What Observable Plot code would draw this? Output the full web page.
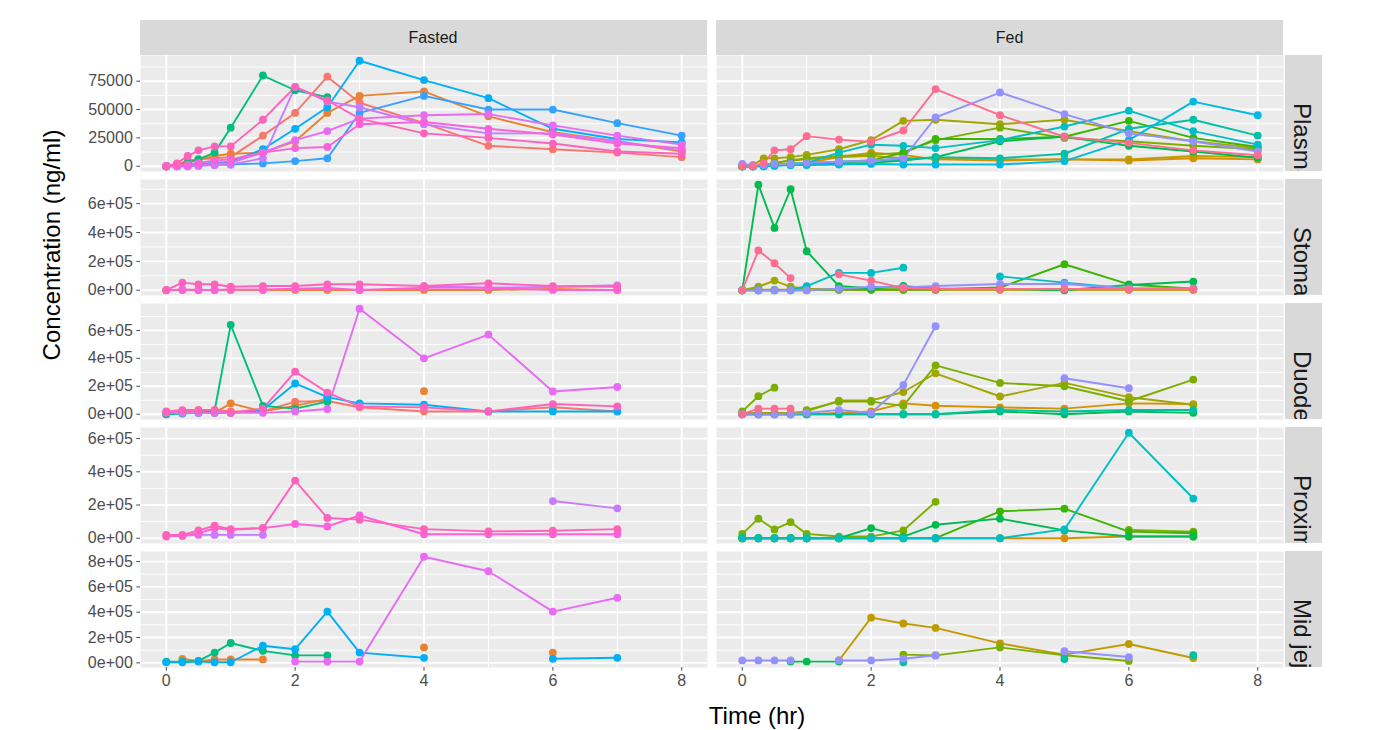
<!DOCTYPE html>
<html><head><meta charset="utf-8">
<script src="https://cdn.jsdelivr.net/npm/d3@7"></script>
<script src="https://cdn.jsdelivr.net/npm/@observablehq/plot@0.6"></script>
<style>
html,body{margin:0;padding:0;background:#fff;}
#wrap{position:relative;width:1377px;height:730px;overflow:hidden;background:#fff;font-family:"Liberation Sans",Arial,sans-serif;}
.strip{position:absolute;background:#D9D9D9;color:#1A1A1A;overflow:hidden;font-size:16px;}
.stripTop span{position:absolute;top:50%;transform:translate(-50%,-50%);white-space:nowrap;}
.stripRight span{position:absolute;left:2px;writing-mode:vertical-rl;white-space:nowrap;font-size:24px;line-height:30px;}
.panel{position:absolute;}
.title{position:absolute;color:#000;font-size:24px;white-space:nowrap;}
</style></head><body><div id="wrap"></div>
<script>
// ---------------- data ----------------
const subjectIds = ["1","2","3","4","5","6","7","8","9","10","11","12","13","14","15","16","17","18","19","20"];
const subjectColors = ["#F8766D","#EA8331","#D89000","#C09B00","#A3A500","#7CAE00","#39B600","#00BB4E","#00BF7D","#00C1A3","#00BFC4","#00BAE0","#00B0F6","#35A2FF","#9590FF","#C77CFF","#E76BF3","#FA62DB","#FF62BC","#FF6C91"];
const conditions = ["Fasted","Fed"];
const tissues = ["Plasma","Stomach","Duodenum","Proximal jejunum","Mid jejunum"];
const plasmaTimes = [0,0.167,0.333,0.5,0.75,1,1.5,2,2.5,3,4,5,6,7,8];
const giTimes = [0,0.25,0.5,0.75,1,1.5,2,2.5,3,4,5,6,7];
const xTicks = [0,2,4,6,8];
const xMinor = [1,3,5,7];
const plasmaTicks = [0,25000,50000,75000];
const plasmaTickLabels = ["0","25000","50000","75000"];
const plasmaMinor = [12500,37500,62500,87500];
const giTicks = [0,200000,400000,600000,800000];
const giTickLabels = ["0e+00","2e+05","4e+05","6e+05","8e+05"];
const giMinor = [100000,300000,500000,700000];

const plasmaFasted = [
  ["1",  [0,1000,5000,6000,7000,8000,27000,47000,79000,56000,38000,18000,15000,12000,8000]],
  ["2",  [0,2000,4000,6000,9000,11000,12000,22000,47000,62000,66000,44000,30000,22000,13000]],
  ["9",  [0,1000,3000,6000,12000,34000,80000,67000,61000,null,null,null,null,null,null]],
  ["13", [0,500,1000,2000,3000,4000,15000,33000,52000,93000,76000,60000,33000,24000,21000]],
  ["14", [0,0,0,500,1000,1500,2500,4500,7000,47000,62000,50000,50000,38000,27000]],
  ["16", [0,0,0,500,1000,1500,7000,70000,57000,52000,37000,29000,29000,22000,14000]],
  ["17", [0,0,500,1000,2000,3000,12000,23000,31000,42000,45000,46000,36000,27000,19000]],
  ["18", [0,500,1500,3000,5000,6000,12000,16000,17000,37000,39000,33000,28000,20000,16000]],
  ["19", [0,2500,9000,14000,17500,17500,41000,70000,58000,42000,29000,25000,20000,13000,11000]]
];
const plasmaFed = [
  ["3",  [0,0,500,1000,2000,3000,8000,12000,10000,6000,5000,6000,5000,7000,6000]],
  ["4",  [0,0,1000,3000,5000,6000,8000,9000,7000,7000,6000,6000,6000,9000,8000]],
  ["5",  [0,1000,7000,7000,8000,10000,15000,23000,40000,41000,37000,41000,31000,22000,16000]],
  ["6",  [0,500,1000,3000,5000,7000,9000,10000,12000,23000,34000,25000,22000,18000,15000]],
  ["7",  [0,0,500,1000,1500,2000,3000,5000,12000,24000,24000,26000,40000,25000,17000]],
  ["8",  [0,0,0,500,1000,1500,2000,3000,5000,8000,22000,26000,18000,13000,7500]],
  ["10", [0,0,500,1000,2000,3000,4000,5000,6000,8000,7000,11000,33000,41000,27000]],
  ["11", [0,0,500,1000,2000,3000,12000,19000,18000,16000,23000,35000,49000,31000,19000]],
  ["12", [0,0,0,500,1000,1000,1500,2000,1500,1500,1500,4500,23000,57000,45000]],
  ["15", [2000,1000,1000,2000,2000,3000,4000,5000,7000,43000,65000,46000,29000,22000,13000]],
  ["20", [0,0,3000,14000,15000,26500,23500,21500,31500,68000,45000,26000,20600,14000,9700]]
];
const stomachFasted = [
  ["2",  [0,2000,2000,2000,2000,2000,2000,2000,2000,2000,2000,8000,1000]],
  ["16", [null,null,null,null,null,null,null,null,null,29000,17000,22000,34000]],
  ["18", [0,5000,2000,2000,5000,5000,10000,15000,2000,17000,17000,2000,2000]],
  ["19", [0,53000,41000,41000,24000,29000,29000,41000,41000,29000,48000,29000,24000]]
];
const stomachFed = [
  ["3",  [0,3000,3000,3000,3000,3000,3000,3000,3000,3000,3000,3000,3000]],
  ["5",  [0,24000,67000,24000,10000,5000,5000,5000,5000,5000,5000,5000,5000]],
  ["7",  [0,0,0,0,0,5000,5000,5000,5000,19000,180000,40000,10000]],
  ["8",  [0,731000,432000,700000,271000,29000,12000,30000,10000,10000,0,36000,60000]],
  ["11", [0,0,0,0,29000,120000,120000,156000,null,96000,53000,12000,10000]],
  ["15", [0,0,0,0,0,10000,24000,20000,29000,43000,43000,12000,12000]],
  ["20", [0,276000,187000,84000,null,110000,67000,15000,8000,8000,8000,8000,8000]]
];
const duodenumFasted = [
  ["1",  [10000,20000,20000,30000,20000,20000,90000,95000,50000,20000,20000,50000,20000]],
  ["2",  [0,20000,30000,10000,78000,20000,60000,110000,null,165000,null,40000,null]],
  ["9",  [0,5000,10000,25000,640000,60000,40000,90000,null,null,null,null,null]],
  ["13", [10000,10000,10000,10000,10000,30000,220000,122000,78000,68000,20000,20000,20000]],
  ["17", [10000,10000,10000,10000,10000,10000,20000,37000,755000,400000,570000,163000,195000]],
  ["19", [20000,30000,30000,30000,10000,40000,305000,155000,56000,49000,20000,73000,56000]]
];
const duodenumFed = [
  ["3",  [0,0,0,0,0,10000,20000,78000,61000,49000,40000,78000,73000]],
  ["5",  [10000,10000,10000,10000,20000,98000,98000,159000,293000,127000,224000,122000,68000]],
  ["6",  [20000,129000,190000,null,30000,90000,90000,60000,350000,224000,200000,93000,248000]],
  ["8",  [0,0,0,0,0,0,0,0,0,20000,0,20000,10000]],
  ["10", [0,0,0,0,0,0,0,0,0,30000,20000,30000,30000]],
  ["15", [0,0,0,0,10000,30000,10000,210000,630000,null,258000,186000,null]],
  ["20", [0,40000,40000,40000,null,null,null,null,null,null,null,null,null]]
];
const proximalFasted = [
  ["16", [null,15000,20000,20000,20000,20000,null,null,null,null,null,224000,180000]],
  ["18", [10000,15000,30000,60000,50000,61000,86000,71000,137000,24000,24000,24000,24000]],
  ["19", [20000,20000,47000,75000,55000,61000,347000,122000,112000,55000,41000,45000,55000]]
];
const proximalFed = [
  ["3",  [0,0,0,0,0,0,0,0,0,0,0,10000,10000]],
  ["6",  [26000,118000,53000,97000,26000,10000,10000,47000,219000,null,null,50000,40000]],
  ["7",  [0,0,0,0,0,0,0,0,0,162000,178000,40000,30000]],
  ["8",  [0,0,0,0,0,0,61000,10000,81000,118000,47000,10000,10000]],
  ["11", [0,0,0,0,0,0,0,0,0,0,53000,635000,239000]]
];
const midFasted = [
  ["2",  [null,32000,13000,27000,27000,27000,null,null,null,122000,null,81000,null]],
  ["9",  [10000,10000,15000,81000,157000,95000,59000,59000,null,null,null,null,null]],
  ["13", [5000,5000,10000,5000,5000,135000,108000,405000,81000,40000,null,32000,40000]],
  ["17", [null,null,null,null,null,null,10000,10000,10000,838000,724000,405000,514000]]
];
const midFed = [
  ["4",  [null,null,null,null,null,19000,357000,311000,276000,154000,65000,149000,38000]],
  ["6",  [null,null,null,null,null,null,null,65000,59000,122000,60000,15000,null]],
  ["8",  [null,null,null,10000,10000,10000,null,null,null,null,null,null,null]],
  ["10", [null,null,null,null,null,null,null,5000,null,null,30000,null,60000]],
  ["15", [19000,19000,19000,19000,null,19000,19000,32000,59000,null,92000,46000,null]]
];

// ---------------- layout ----------------
const rows = [
  {times: plasmaTimes, series: [plasmaFasted, plasmaFed], ticks: plasmaTicks, labels: plasmaTickLabels, minor: plasmaMinor},
  {times: giTimes, series: [stomachFasted, stomachFed], ticks: giTicks, labels: giTickLabels, minor: giMinor},
  {times: giTimes, series: [duodenumFasted, duodenumFed], ticks: giTicks, labels: giTickLabels, minor: giMinor},
  {times: giTimes, series: [proximalFasted, proximalFed], ticks: giTicks, labels: giTickLabels, minor: giMinor},
  {times: giTimes, series: [midFasted, midFed], ticks: giTicks, labels: giTickLabels, minor: giMinor}
];
const colLeft = [139.5, 716];
const panelW = 567;
const rowTop = [55, 179, 303, 427, 551];
const panelH = 116;
const stripTop = 20;
const rightStripLeft = colLeft[1] + panelW + 1.5;
const rightStripW = 1322 - rightStripLeft;

const wrap = document.getElementById("wrap");
function addDiv(cls, style, html) {
  const d = document.createElement("div");
  d.className = cls;
  Object.assign(d.style, style);
  d.innerHTML = html;
  wrap.appendChild(d);
  return d;
}

rows.forEach((row, r) => {
  const flat = [];
  row.series.forEach((ser, c) => ser.forEach(([id, vals]) => vals.forEach((v, i) => {
    flat.push({id, t: row.times[i], v, c});
  })));
  const vs = flat.filter(d => d.v != null).map(d => d.v);
  const lo = d3.min(vs), hi = d3.max(vs), pad = (hi - lo) * 0.05;
  const yDomain = [lo - pad, hi + pad];
  const inDom = v => v >= yDomain[0] && v <= yDomain[1];
  const ticks = row.ticks.filter(inDom);
  const labels = row.labels.filter((_, i) => inDom(row.ticks[i]));
  const minor = row.minor.filter(inDom);

  [0, 1].forEach(c => {
    const data = flat.filter(d => d.c === c);
    const left = c === 0, bottom = r === rows.length - 1;
    const ml = left ? 100 : 0, mb = bottom ? 28 : 0;
    const marks = [
      Plot.frame({fill: "#EBEBEB", stroke: null}),
      Plot.ruleY(minor, {stroke: "#fff", strokeWidth: 0.95}),
      Plot.ruleX(xMinor, {stroke: "#fff", strokeWidth: 0.95}),
      Plot.ruleY(ticks, {stroke: "#fff", strokeWidth: 1.9}),
      Plot.ruleX(xTicks, {stroke: "#fff", strokeWidth: 1.9}),
      Plot.line(data, {x: "t", y: "v", z: "id", stroke: "id", strokeWidth: 1.9}),
      Plot.dot(data, {x: "t", y: "v", fill: "id", r: 3.9})
    ];
    if (left) marks.push(Plot.axisY({ticks, tickFormat: (d, i) => labels[i], tickSize: 3.7, tickPadding: 4, label: null, color: "#4D4D4D", fontSize: 16}));
    if (bottom) marks.push(Plot.axisX({ticks: xTicks, tickSize: 3.7, tickPadding: 3, label: null, color: "#4D4D4D", fontSize: 16}));
    const svg = Plot.plot({
      width: ml + panelW, height: panelH + mb,
      marginLeft: ml, marginRight: 0, marginTop: 0, marginBottom: mb,
      x: {domain: [-0.4, 8.4], ...(bottom ? {} : {axis: null})},
      y: {domain: yDomain, ...(left ? {} : {axis: null})},
      color: {domain: subjectIds, range: subjectColors},
      style: {background: "transparent", overflow: "visible", fontFamily: "'Liberation Sans', Arial, sans-serif"},
      marks
    });
    const holder = addDiv("panel", {left: (colLeft[c] - ml) + "px", top: rowTop[r] + "px"}, "");
    holder.appendChild(svg);
  });
  addDiv("strip stripRight", {left: rightStripLeft + "px", top: rowTop[r] + "px", width: rightStripW + "px", height: panelH + "px"},
    `<span style="top:${panelH / 2 - 10}px">${tissues[r]}</span>`);
});

conditions.forEach((cond, c) => {
  addDiv("strip stripTop", {left: colLeft[c] + "px", top: stripTop + "px", width: panelW + "px", height: (rowTop[0] - stripTop) + "px"},
    `<span style="left:${panelW / 2 + 10}px">${cond}</span>`);
});

addDiv("title", {left: "757px", top: "716px", transform: "translate(-50%,-50%)"}, "Time (hr)");
addDiv("title", {left: "52px", top: "245px", transform: "translate(-50%,-50%) rotate(-90deg)"}, "Concentration (ng/ml)");
</script></body></html>
